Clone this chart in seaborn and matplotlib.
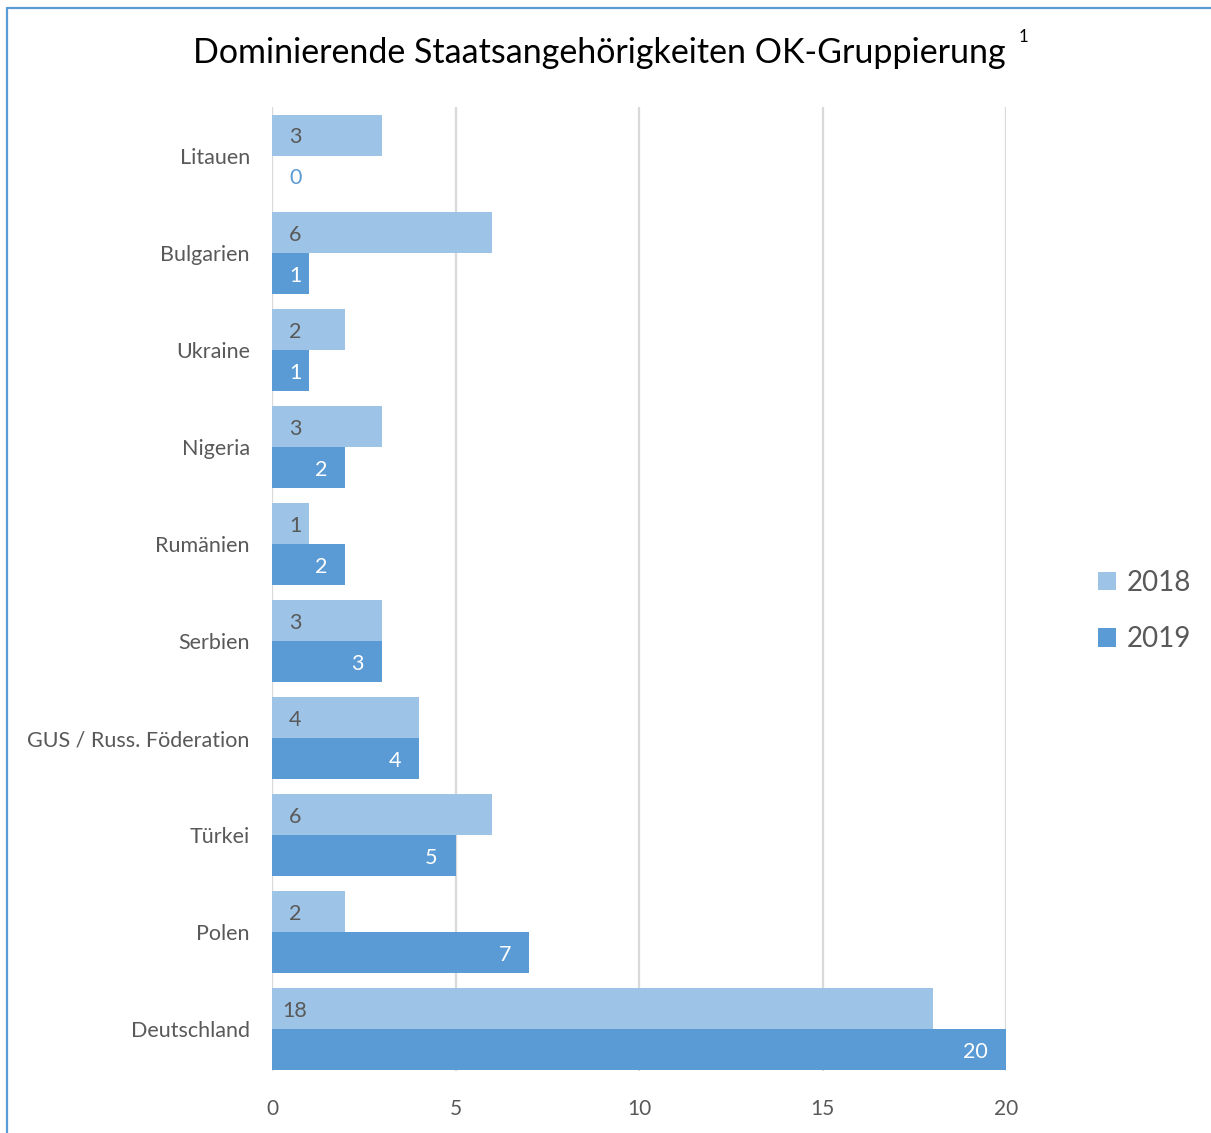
import matplotlib
matplotlib.use("Agg")
import matplotlib.pyplot as plt
from matplotlib.lines import Line2D
from matplotlib.patches import Patch
import seaborn as sns
import pandas as pd

countries = ["Litauen", "Bulgarien", "Ukraine", "Nigeria", "Rumänien", "Serbien",
             "GUS / Russ. Föderation", "Türkei", "Polen", "Deutschland"]
values_2018 = [3, 6, 2, 3, 1, 3, 4, 6, 2, 18]
values_2019 = [0, 1, 1, 2, 2, 3, 4, 5, 7, 20]
years = ["2018", "2019"]
colors = ["#9DC3E6", "#5B9BD5"]
x_ticks = [0, 5, 10, 15, 20]
title = "Dominierende Staatsangehörigkeiten OK-Gruppierung"

df = pd.DataFrame({
    "Land": countries * 2,
    "Anzahl": values_2018 + values_2019,
    "Jahr": [years[0]] * len(countries) + [years[1]] * len(countries),
})

sns.set_theme(style="white")
plt.rcParams["font.family"] = ["Lato", "DejaVu Sans"]
TXT = "#595959"

W, H = 1211, 1133
fig = plt.figure(figsize=(W / 100, H / 100), dpi=100)
ax = fig.add_axes([272 / W, 1 - 1071 / H, (1006 - 272) / W, (1071 - 107) / H])

sns.barplot(data=df, y="Land", x="Anzahl", hue="Jahr", order=countries,
            hue_order=years, palette=colors, orient="h", width=0.845,
            saturation=1, ax=ax, legend=False, linewidth=0, gap=0)

ax.set_xlim(0, 20)
ax.set_ylim(9.43, -0.5)
ax.set_xticks(x_ticks)
ax.set_xticklabels([str(t) for t in x_ticks], fontsize=15, color=TXT)
ax.tick_params(axis="x", length=0, pad=20)
ax.tick_params(axis="y", length=0, pad=16)
for lab in ax.get_yticklabels():
    lab.set_fontsize(15.5)
    lab.set_color(TXT)
ax.set_xlabel("")
ax.set_ylabel("")
for s in ax.spines.values():
    s.set_visible(False)
ax.grid(axis="x", color="#D9D9D9", linewidth=1.6)
ax.grid(axis="y", visible=False)
ax.set_axisbelow(True)

# data labels (pixel offsets at dpi 100 -> points)
PX = 0.72
base_x = 0.63
dy = 0.025
for bar, v in zip(ax.containers[0], values_2018):
    yc = bar.get_y() + bar.get_height() / 2 + dy
    ax.text(base_x, yc, str(v), ha="center", va="center", fontsize=15.5, color=TXT)
for bar, v in zip(ax.containers[1], values_2019):
    yc = bar.get_y() + bar.get_height() / 2 + dy
    if v == 0:
        ax.text(base_x, yc, str(v), ha="center", va="center", fontsize=15.5, color=colors[1])
    elif v <= 1:
        ax.text(base_x, yc, str(v), ha="center", va="center", fontsize=15.5, color="white")
    else:
        ax.annotate(str(v), xy=(v, yc), xytext=(-18 * PX, 0), textcoords="offset points",
                    ha="right", va="center", fontsize=15.5, color="white")

# title
fig.text(599 / W, 1 - 53 / H, title, ha="center", va="center", fontsize=24.5, color="black")
fig.text(1023 / W, 1 - 37 / H, "1", ha="center", va="center", fontsize=12, color="black")

# legend
handles = [Patch(facecolor=c, edgecolor="none") for c in colors]
fig.legend(handles, years, loc="center left", bbox_to_anchor=(1073 / W, 1 - 611 / H),
           frameon=False, fontsize=20, handlelength=0.65, handleheight=0.65,
           handletextpad=0.4, labelspacing=1.1, labelcolor=TXT)

# frame border (left and top)
fig.add_artist(Line2D([7 / W, 7 / W], [0, 1 - 8 / H], color="#5B9BD5", linewidth=1.6,
                      transform=fig.transFigure))
fig.add_artist(Line2D([7 / W, 1], [1 - 8 / H, 1 - 8 / H], color="#5B9BD5", linewidth=1.6,
                      transform=fig.transFigure))

fig.savefig("out.png", dpi=100, facecolor="white")
